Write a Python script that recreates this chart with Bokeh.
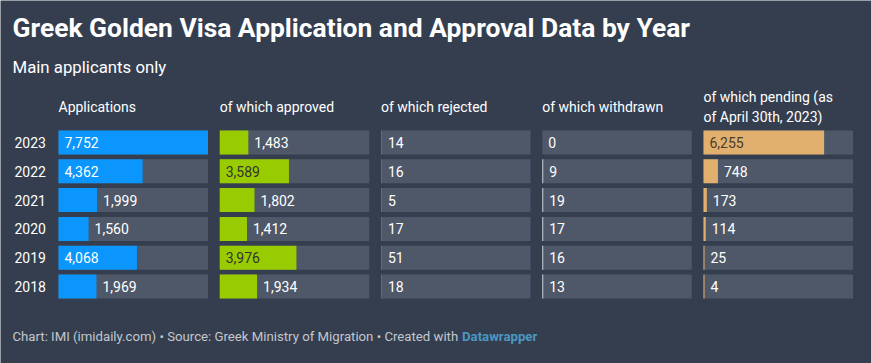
from bokeh.plotting import figure
from bokeh.models import Range1d, ColumnDataSource
from bokeh.core.properties import value
from bokeh.embed import file_html
from bokeh.resources import INLINE

# ---------------- data ----------------
years = ["2023", "2022", "2021", "2020", "2019", "2018"]
applications = [7752, 4362, 1999, 1560, 4068, 1969]
approved = [1483, 3589, 1802, 1412, 3976, 1934]
rejected = [14, 16, 5, 17, 51, 18]
withdrawn = [0, 9, 19, 17, 16, 13]
pending = [6255, 748, 173, 114, 25, 4]
headers = ["Applications", "of which approved", "of which rejected",
           "of which withdrawn", "of which pending (as\nof April 30th, 2023)"]

title_text = "Greek Golden Visa Application and Approval Data by Year"
subtitle_text = "Main applicants only"
footer_text = "Chart: IMI (imidaily.com) \u2022 Source: Greek Ministry of Migration \u2022 Created with "
footer_link = "Datawrapper"

# ---------------- style ----------------
BG = "#343e4f"
TRACK = "#4f5868"
COLORS = ["#0a96fc", "#99cc00", "#c4424f", "#c9ced6", "#e2b06e"]
INSIDE_TEXT = ["#ffffff", "#333333", "#333333", "#333333", "#4a3d2c"]
FONT = value("Roboto")

series = [applications, approved, rejected, withdrawn, pending]
MAX = max(max(s) for s in series)

W, H = 871, 363
BAR_PX = 149.5          # full bar width in px
COL_PITCH_PX = 161.25   # distance between column starts
ROW_PITCH_PX = 28.8
BAR_H_PX = 24
X0_PX = 58              # px where the first column starts
Y0_PX = 142             # px of the first row center

col_pitch = COL_PITCH_PX / BAR_PX

def X(px):
    return (px - X0_PX) / BAR_PX

def Y(py):
    return (py - Y0_PX) / ROW_PITCH_PX

p = figure(width=W, height=H, output_backend="svg", toolbar_location=None,
           x_range=Range1d(-X0_PX / BAR_PX, (W - X0_PX) / BAR_PX),
           y_range=Range1d((H - Y0_PX) / ROW_PITCH_PX, -Y0_PX / ROW_PITCH_PX),
           x_axis_location=None, y_axis_location=None,
           min_border=0, min_border_left=0, min_border_right=0,
           min_border_top=0, min_border_bottom=0)
p.background_fill_color = BG
p.border_fill_color = BG
p.outline_line_color = None
p.grid.visible = False

rows = list(range(len(years)))
bar_h = BAR_H_PX / ROW_PITCH_PX
min_w = 1.0 / BAR_PX

for ci, (vals, col) in enumerate(zip(series, COLORS)):
    off = ci * col_pitch
    # track
    p.hbar(y=rows, left=off, right=off + 1, height=bar_h,
           fill_color=TRACK, line_color=None)
    widths = [0 if v == 0 else max(v / MAX, min_w) for v in vals]
    src = ColumnDataSource(dict(y=rows, left=[off] * len(rows),
                                right=[off + w for w in widths]))
    p.hbar(y="y", left="left", right="right", height=bar_h, source=src,
           fill_color=col, line_color=None)
    # labels
    lx, lt, lc = [], [], []
    for v, w in zip(vals, widths):
        inside = w > 0.4
        if inside:
            lx.append(off + 6 / BAR_PX)
            lc.append(INSIDE_TEXT[ci])
        else:
            lx.append(off + w + 6 / BAR_PX)
            lc.append("#ffffff")
        lt.append(f"{v:,}")
    lsrc = ColumnDataSource(dict(x=lx, y=rows, t=lt, c=lc))
    p.text(x="x", y="y", text="t", text_color="c", source=lsrc,
           text_font=FONT, text_font_size="14px", text_baseline="middle",
           text_align="left")

# year labels
p.text(x=[X(14)] * len(years), y=rows, text=years, text_color="#ffffff",
       text_font=FONT, text_font_size="14px", text_baseline="middle",
       text_align="left")

# column headers
p.text(x=[ci * col_pitch for ci in range(len(headers))],
       y=[Y(106)] * len(headers), text=headers, text_color="#ffffff",
       text_font=FONT, text_font_size="14px", text_baseline="middle",
       text_align="left", text_line_height=1.25)

# title / subtitle / footer
p.text(x=[X(12)], y=[Y(27.5)], text=[title_text], text_color="#ffffff",
       text_font=FONT, text_font_size="26.4px", text_font_style="bold",
       text_baseline="middle")
p.text(x=[X(12)], y=[Y(66)], text=[subtitle_text], text_color="#ffffff",
       text_font=FONT, text_font_size="16.8px", text_baseline="middle")
p.text(x=[X(12)], y=[Y(336.3)], text=[footer_text], text_color="#c3c7cd",
       text_font=FONT, text_font_size="13.2px", text_baseline="middle")
p.text(x=[X(461.5)], y=[Y(336.3)], text=[footer_link], text_color="#4b98c1",
       text_font=FONT, text_font_size="13.2px", text_font_style="bold",
       text_baseline="middle")

html = file_html(p, INLINE)
html = html.replace("<body>", '<body style="background-color:%s;">' % BG, 1)
open("out.html", "w").write(html)
